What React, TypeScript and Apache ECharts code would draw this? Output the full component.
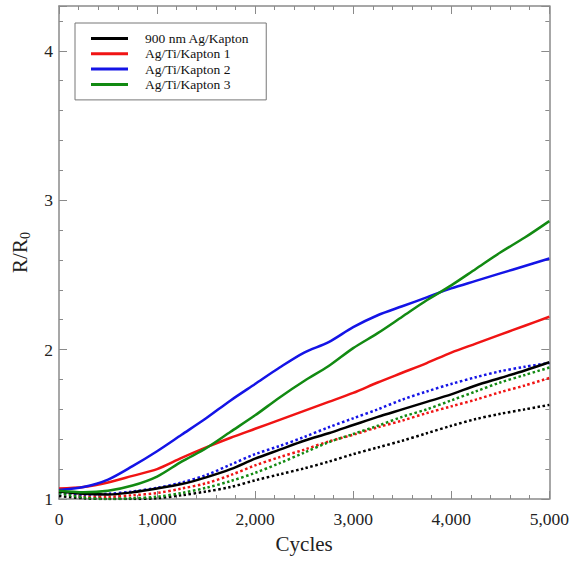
import React, { useEffect, useRef } from "react";
import * as echarts from "echarts";

const cycles = [0, 250, 500, 750, 1000, 1250, 1500, 1750, 2000, 2250, 2500, 2750, 3000, 3250, 3500, 3750, 4000, 4250, 4500, 4750, 5000];

const agKapton = [1.05, 1.035, 1.03, 1.045, 1.07, 1.1, 1.145, 1.2, 1.27, 1.33, 1.39, 1.44, 1.495, 1.55, 1.6, 1.65, 1.7, 1.76, 1.81, 1.86, 1.915];
const agTi1 = [1.07, 1.08, 1.11, 1.155, 1.2, 1.275, 1.345, 1.41, 1.47, 1.53, 1.59, 1.65, 1.71, 1.78, 1.845, 1.91, 1.98, 2.04, 2.1, 2.16, 2.22];
const agTi2 = [1.06, 1.08, 1.13, 1.22, 1.32, 1.43, 1.54, 1.66, 1.77, 1.88, 1.98, 2.05, 2.15, 2.23, 2.29, 2.35, 2.41, 2.46, 2.51, 2.56, 2.61];
const agTi3 = [1.055, 1.045, 1.055, 1.09, 1.15, 1.25, 1.34, 1.45, 1.56, 1.68, 1.79, 1.89, 2.01, 2.11, 2.22, 2.33, 2.43, 2.54, 2.65, 2.75, 2.86];

const agKaptonDot = [1.02, 1.005, 1.0, 1.0, 1.005, 1.025, 1.05, 1.08, 1.125, 1.165, 1.205, 1.25, 1.3, 1.345, 1.39, 1.44, 1.49, 1.535, 1.57, 1.6, 1.63];
const agTi1Dot = [1.05, 1.02, 1.015, 1.025, 1.04, 1.07, 1.105, 1.16, 1.225, 1.28, 1.33, 1.385, 1.43, 1.48, 1.525, 1.575, 1.62, 1.665, 1.715, 1.76, 1.81];
const agTi2Dot = [1.04, 1.03, 1.035, 1.05, 1.075, 1.11, 1.16, 1.23, 1.3, 1.355, 1.415, 1.48, 1.54, 1.6, 1.665, 1.72, 1.77, 1.815, 1.855, 1.885, 1.91];
const agTi3Dot = [1.04, 1.01, 1.0, 1.005, 1.015, 1.04, 1.075, 1.12, 1.175, 1.24, 1.31, 1.38, 1.435, 1.49, 1.55, 1.6, 1.66, 1.72, 1.78, 1.83, 1.88];

const legendNames = ["900 nm Ag/Kapton", "Ag/Ti/Kapton 1", "Ag/Ti/Kapton 2", "Ag/Ti/Kapton 3"];
const colors = ["#000000", "#f01414", "#1414e6", "#128a12"];

const pair = (ys: number[]) => cycles.map((x, i) => [x, ys[i]]);

const SERIF = "'Liberation Serif', 'DejaVu Serif', serif";
const AXIS_COLOR = "#8a8a8a";

export default function App() {
  const ref = useRef<HTMLDivElement>(null);
  useEffect(() => {
    document.body.style.margin = "0";
    if (!ref.current) return;
    const chart = echarts.init(ref.current, undefined, { renderer: "svg" });

    const solid = [agKapton, agTi1, agTi2, agTi3];
    const dotted = [agKaptonDot, agTi1Dot, agTi2Dot, agTi3Dot];

    const series: any[] = [];
    dotted.forEach((d, i) => {
      series.push({
        name: legendNames[i] + " (dotted)",
        type: "line",
        data: pair(d),
        smooth: 0.3,
        showSymbol: false,
        lineStyle: { color: colors[i], width: 2.5, type: [2.5, 2.5], cap: "butt" },
        itemStyle: { color: colors[i] },
        z: 2,
      });
    });
    solid.forEach((d, i) => {
      series.push({
        name: legendNames[i],
        type: "line",
        data: pair(d),
        smooth: 0.3,
        showSymbol: false,
        lineStyle: { color: colors[i], width: 2.5 },
        itemStyle: { color: colors[i] },
        z: 3,
      });
    });

    const commonX = {
      type: "value",
      min: 0,
      max: 5000,
      interval: 1000,
      minorTick: { show: true, splitNumber: 5, length: 4, lineStyle: { color: AXIS_COLOR, width: 1 } },
      axisTick: { show: true, inside: true, length: 8, lineStyle: { color: AXIS_COLOR, width: 1 } },
      axisLine: { show: true, onZero: false, lineStyle: { color: AXIS_COLOR, width: 1.5 } },
      splitLine: { show: false },
    };
    const commonY = {
      type: "value",
      min: 1,
      max: 4.3,
      interval: 1,
      minorTick: { show: true, splitNumber: 5, length: 4, lineStyle: { color: AXIS_COLOR, width: 1 } },
      axisTick: { show: true, inside: true, length: 8, lineStyle: { color: AXIS_COLOR, width: 1 } },
      axisLine: { show: true, onZero: false, lineStyle: { color: AXIS_COLOR, width: 1.5 } },
      splitLine: { show: false },
    };

    chart.setOption({
      animation: false,
      backgroundColor: "#ffffff",
      grid: { left: 59, right: 20, top: 6, bottom: 63, containLabel: false },
      legend: {
        data: legendNames,
        orient: "vertical",
        left: 75,
        top: 23,
        icon: "rect",
        itemWidth: 37,
        itemHeight: 3,
        itemGap: 0.3,
        padding: [8, 17, 8, 16],
        borderColor: "#777777",
        borderWidth: 1,
        selectedMode: false,
        textStyle: {
          fontFamily: SERIF,
          fontSize: 13.5,
          color: "#111",
          lineHeight: 15,
          padding: [0, 0, 0, 12],
        },
      },
      xAxis: [
        {
          ...commonX,
          position: "bottom",
          name: "Cycles",
          nameLocation: "middle",
          nameGap: 34,
          nameTextStyle: { fontFamily: SERIF, fontSize: 21, color: "#222" },
          axisLabel: { fontFamily: SERIF, fontSize: 17.5, color: "#222", margin: 11 },
        },
        {
          ...commonX,
          position: "top",
          axisLabel: { show: false },
        },
      ],
      yAxis: [
        {
          ...commonY,
          position: "left",
          name: "{a|R/R}{b|0}",
          nameLocation: "middle",
          nameGap: 27,
          nameRotate: 90,
          nameTextStyle: {
            rich: {
              a: { fontFamily: SERIF, fontSize: 21, color: "#222" },
              b: { fontFamily: SERIF, fontSize: 14, color: "#222", padding: [10, 0, 0, 0] },
            },
          },
          axisLabel: {
            fontFamily: SERIF,
            fontSize: 17.5,
            color: "#222",
            margin: 6,
            showMaxLabel: false,
            formatter: (v: number) => (Math.abs(v - Math.round(v)) < 1e-6 ? String(Math.round(v)) : ""),
          },
        },
        {
          ...commonY,
          position: "right",
          axisLabel: { show: false },
        },
      ],
      series,
    });
    return () => chart.dispose();
  }, []);
  return <div ref={ref} style={{ width: 572, height: 562 }} />;
}
